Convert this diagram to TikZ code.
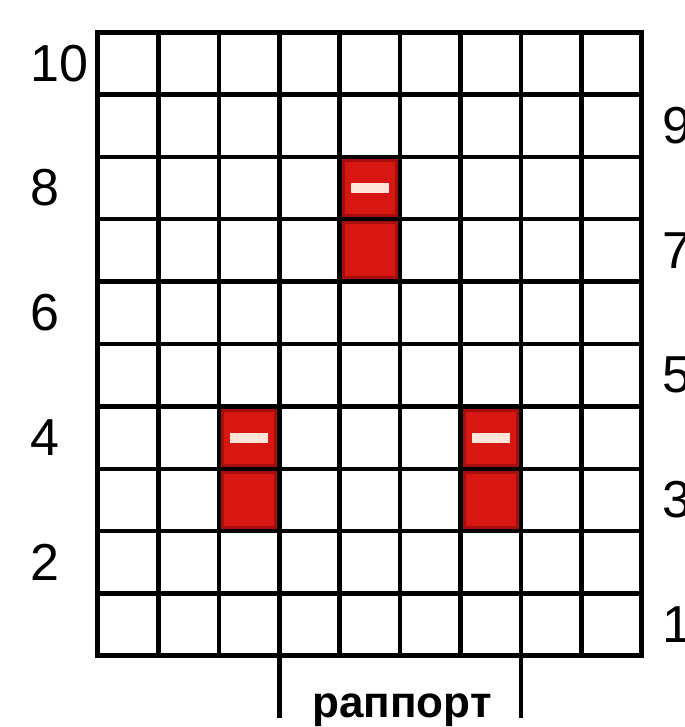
\documentclass[tikz,border=0pt]{standalone}
\usepackage{fontspec}
\setmainfont{Liberation Sans}
\definecolor{knitred}{RGB}{216,22,18}
\definecolor{knitdark}{RGB}{165,14,12}
\definecolor{knitdash}{RGB}{255,228,215}
\tikzset{
  rownum/.style={font=\fontsize{52}{52}\selectfont, inner sep=0pt, anchor=west},
  purlcell/.style={draw=knitdark, line width=3pt},
}
\begin{document}
\begin{tikzpicture}[x=60.44pt, y=62.4pt]
  \useasboundingbox (-1.621,-1.138) rectangle (9.712,10.513);
  % purl stitches, two rows high, dash on the upper row
  \foreach \c/\r in {2/2, 6/2, 4/6} {
    \fill[knitred] (\c,\r) rectangle (\c+1,\r+2);
    \foreach \k in {0,1}
      \draw[purlcell] ([shift={(3.7pt,3.7pt)}]\c,\r+\k)
        rectangle ([shift={(-3.7pt,-3.7pt)}]\c+1,\r+\k+1);
    \fill[knitdash] (\c+0.185,\r+1.42) rectangle (\c+0.815,\r+1.58);
  }
  % chart grid
  \foreach \c in {1,...,8}
    \draw[line width=4.5pt] (\c,0) -- (\c,10);
  \foreach \r in {1,...,9}
    \draw[line width=4.5pt] (0,\r) -- (9,\r);
  \draw[line width=5pt] (0,0) rectangle (9,10);
  % row numbers: even on the left, odd on the right
  \foreach \r in {2,4,...,10}
    \node[rownum] (row\r) at (-1.125,\r-0.5) {\r};
  \foreach \r in {1,3,...,9}
    \node[rownum] (row\r) at (9.33,\r-0.5) {\r};
  % repeat
  \coordinate (repL) at (3,0);
  \coordinate (repLend) at (3,-1.0);
  \coordinate (repR) at (7,0);
  \coordinate (repRend) at (7,-1.0);
  \draw[line width=4.5pt] (repL) -- (repLend);
  \draw[line width=4.5pt] (repR) -- (repRend);
  \node[font=\bfseries\fontsize{44}{44}\selectfont, anchor=base, inner sep=0pt]
    (rapport) at (5.03,-0.978) {раппорт};
\end{tikzpicture}
\end{document}
